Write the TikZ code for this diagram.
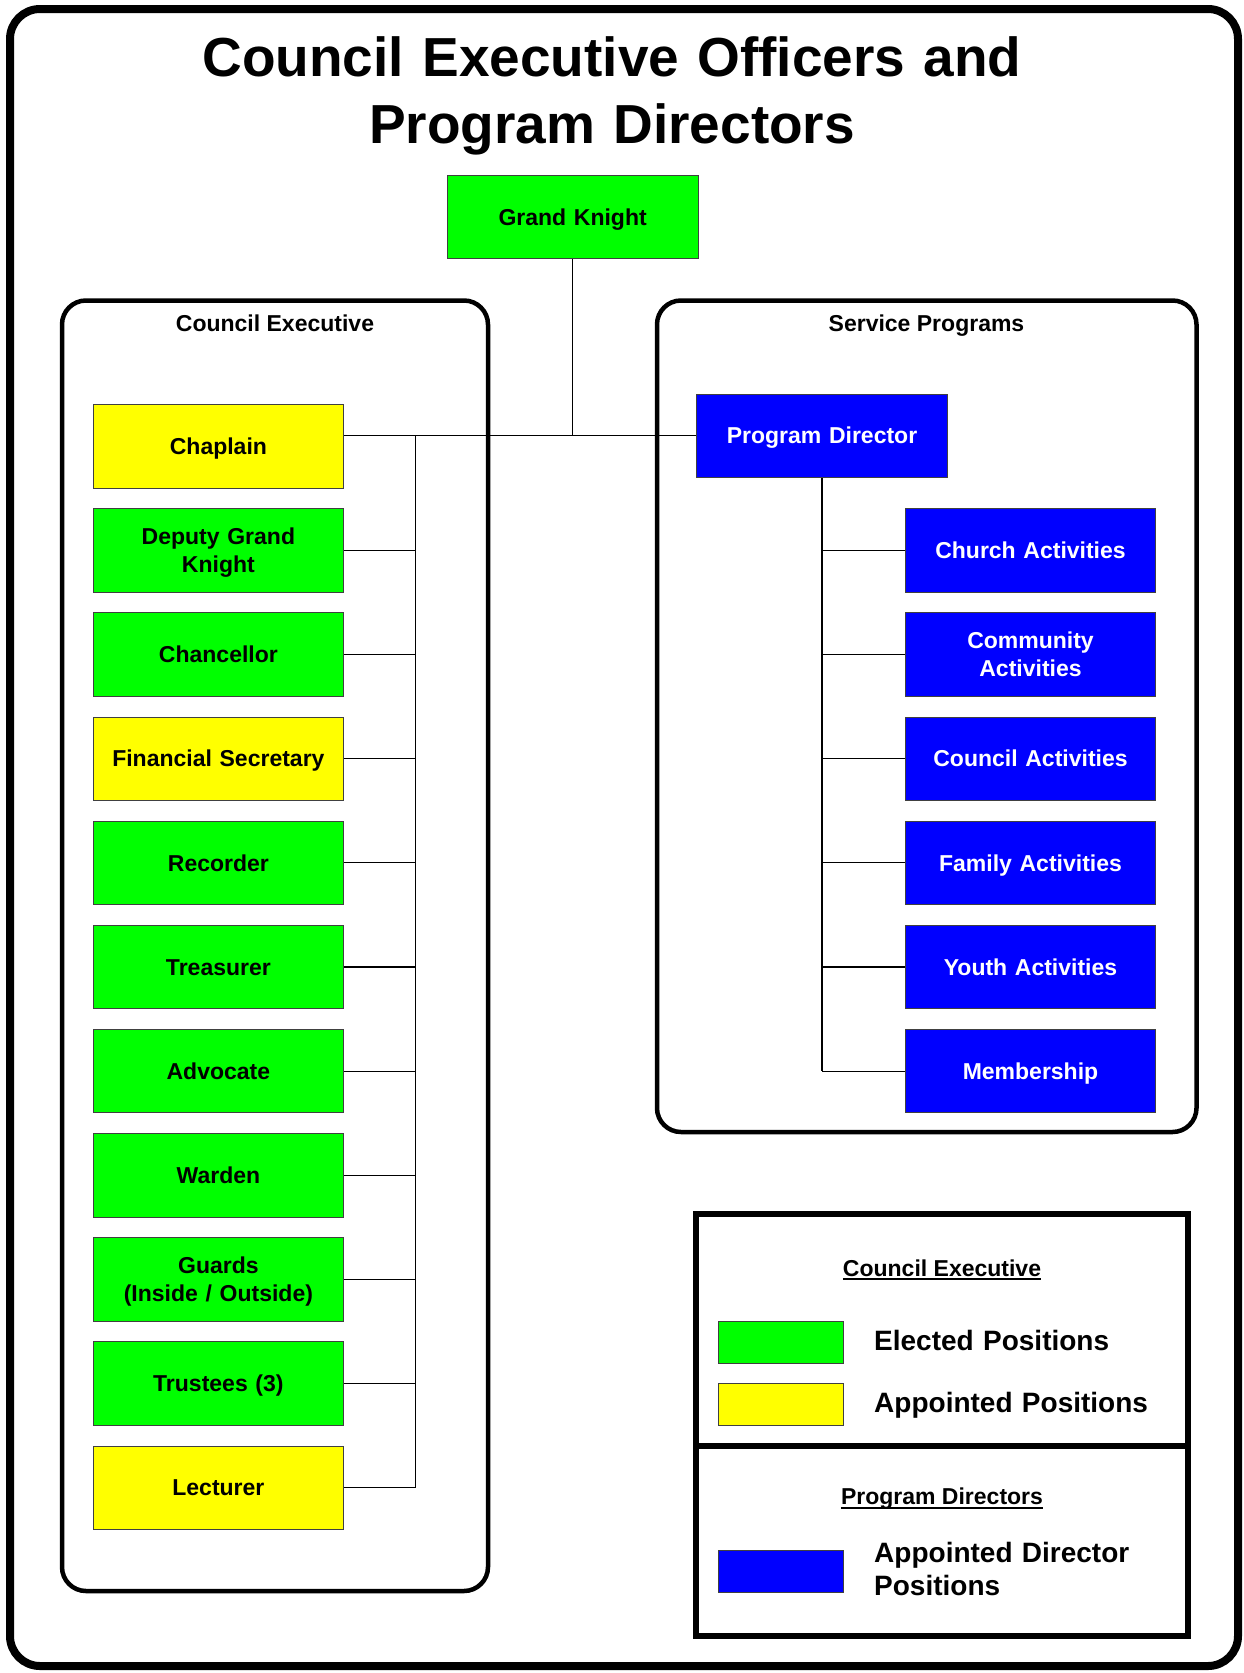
\documentclass[tikz,border=0pt]{standalone}
\usepackage{fontspec}
\setmainfont{Liberation Sans}
\definecolor{kgreen}{RGB}{0,255,0}
\definecolor{kyellow}{RGB}{255,255,0}
\definecolor{kblue}{RGB}{0,0,255}
\newcommand\kfont{\fontsize{23}{27.6}\selectfont\bfseries}
\newcommand\kbig{\fontsize{28}{33}\selectfont\bfseries}
\newcommand\ktitle{\fontsize{55}{67}\selectfont\bfseries}
\tikzset{
  orgbox/.style={draw=black!75, line width=0.8pt, minimum width=250.7pt, minimum height=83.5pt,
    inner sep=0pt, text width=240pt, align=center, font=\kfont, text height=16.5pt, text depth=0pt},
  twoline/.style={text depth=27.6pt},
  elected/.style={orgbox, fill=kgreen},
  appointed/.style={orgbox, fill=kyellow},
  director/.style={orgbox, fill=kblue, text=white},
  conn/.style={draw=black, line width=1.2pt},
  container/.style={draw=black, line width=4.5pt, rounded corners=24pt},
  swatch/.style={draw=black!75, line width=0.8pt, minimum width=125pt, minimum height=42pt, inner sep=0pt},
  lbl/.style={font=\kfont, inner sep=0pt, anchor=base},
  legtext/.style={font=\kbig, inner sep=0pt, anchor=base west, text width=320pt, align=left}
}
\begin{document}
\begin{tikzpicture}[x=1pt,y=-1pt]
\useasboundingbox (0,0) rectangle (1244,1673);
% outer frame
\draw[line width=8pt, rounded corners=30pt] (10,9) rectangle (1238,1666);
% title
\node[font=\ktitle, inner sep=0pt, anchor=base, text width=1150pt, align=center] (title) at (612,76)
  {Council Executive Officers and\\Program Directors};
% containers
\draw[container] (62,300.5) rectangle (488,1591);
\draw[container] (657,300.5) rectangle (1196.5,1132);
\node[lbl] (cetitle) at (275,331.7) {Council Executive};
\node[lbl] (sptitle) at (926.5,331.7) {Service Programs};
% top nodes
\node[elected] (gk) at (572.6,217) {Grand Knight};
\node[director] (pd) at (822,435.7) {Program Director};
% left column
\node[appointed] (l0) at (218.4,446.2) {Chaplain};
\node[elected,twoline] (l1) at (218.4,550.35) {Deputy Grand\\Knight};
\node[elected] (l2) at (218.4,654.5) {Chancellor};
\node[appointed] (l3) at (218.4,758.65) {Financial Secretary};
\node[elected] (l4) at (218.4,862.8) {Recorder};
\node[elected] (l5) at (218.4,966.95) {Treasurer};
\node[elected] (l6) at (218.4,1071.1) {Advocate};
\node[elected] (l7) at (218.4,1175.25) {Warden};
\node[elected,twoline] (l8) at (218.4,1279.4) {Guards\\(Inside / Outside)};
\node[elected] (l9) at (218.4,1383.55) {Trustees (3)};
\node[appointed] (l10) at (218.4,1487.7) {Lecturer};
% right column
\node[director] (r1) at (1030.5,550.35) {Church Activities};
\node[director,twoline] (r2) at (1030.5,654.5) {Community\\Activities};
\node[director] (r3) at (1030.5,758.65) {Council Activities};
\node[director] (r4) at (1030.5,862.8) {Family Activities};
\node[director] (r5) at (1030.5,966.95) {Youth Activities};
\node[director] (r6) at (1030.5,1071.1) {Membership};
% connectors
\coordinate (lbus) at (415.7,435.7);
\draw[conn] (l0.east |- pd.west) -- (pd.west);
\draw[conn] (gk.south) -- (gk.south |- pd.west);
\draw[conn] (lbus) -- (lbus |- l10.east);
\foreach \k in {1,...,10} {\draw[conn] (l\k.east) -- (lbus |- l\k.east);}
\draw[conn] (pd.south) -- (pd.south |- r6.west);
\foreach \k in {1,...,6} {\draw[conn] (pd.south |- r\k.west) -- (r\k.west);}
% legend
\draw[line width=6pt] (695.6,1214) rectangle (1188,1636);
\draw[line width=6pt] (695.6,1446) -- (1188,1446);
\node[lbl] (lg1) at (942,1276) {Council Executive};
\draw[line width=2.2pt] ([yshift=-3pt]lg1.base west) -- ([yshift=-3pt]lg1.base east);
\node[swatch, fill=kgreen] (swg) at (780.5,1342) {};
\node[swatch, fill=kyellow] (swy) at (780.5,1404.3) {};
\node[legtext] (lt1) at (874,1350) {Elected Positions};
\node[legtext] (lt2) at (874,1412) {Appointed Positions};
\node[lbl] (lg2) at (942,1504) {Program Directors};
\draw[line width=2.2pt] ([yshift=-4pt]lg2.base west) -- ([yshift=-4pt]lg2.base east);
\node[swatch, fill=kblue] (swb) at (780.5,1571) {};
\node[legtext] (lt3) at (874,1562) {Appointed Director\\Positions};
\end{tikzpicture}
\end{document}
